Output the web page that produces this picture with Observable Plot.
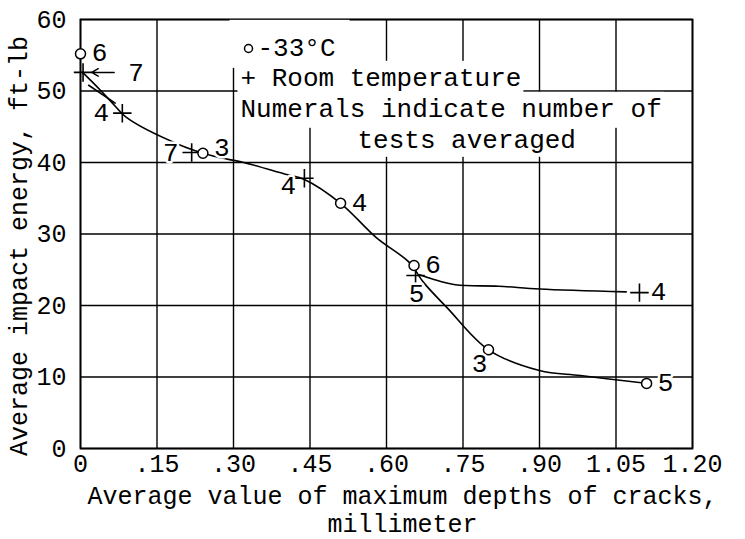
<!DOCTYPE html>
<html><head><meta charset="utf-8">
<script src="https://cdn.jsdelivr.net/npm/d3@7"></script>
<script src="https://cdn.jsdelivr.net/npm/@observablehq/plot@0.6"></script>
<style>body{margin:0;background:#fff}</style>
</head><body><div id="chart"></div>
<script>
// ---- tick labels ----
const xTicks = [0, 0.15, 0.30, 0.45, 0.60, 0.75, 0.90, 1.05, 1.20];
const xTickLabels = ["0", ".15", ".30", ".45", ".60", ".75", ".90", "1.05", "1.20"];
const yTicks = [0, 10, 20, 30, 40, 50, 60];

// ---- -33 C (open circles) ----
const coldX = [0.0, 0.24, 0.51, 0.654, 0.80, 1.11];
const coldY = [55.2, 41.3, 34.3, 25.6, 13.8, 9.1];
const coldN = ["6", "3", "4", "6", "3", "5"];
const coldSide = ["right", "rightUp", "right", "right", "belowLeft", "right"];

// ---- Room temperature (plus) ----
const roomX = [0.005, 0.082, 0.218, 0.439, 0.657, 1.096];
const roomY = [52.6, 46.9, 41.4, 37.8, 24.2, 21.8];
const roomN = ["7", "4", "7", "4", "5", "4"];
const roomSide = ["arrow", "left", "left", "leftBelow", "below", "right"];

// ---- faired curves ----
const mainCurveX = [0.004, 0.035, 0.064, 0.09, 0.19, 0.26, 0.32, 0.40, 0.44, 0.51, 0.58, 0.645, 0.673, 0.72, 0.80, 0.90, 0.98, 1.10];
const mainCurveY = [52.6, 50.4, 48.2, 46.3, 42.6, 40.9, 40.0, 38.4, 37.6, 34.3, 29.5, 26.0, 23.2, 19.6, 13.8, 10.9, 10.2, 9.2];
const roomCurveX = [0.665, 0.69, 0.735, 0.82, 0.90, 1.07];
const roomCurveY = [24.3, 23.7, 22.9, 22.7, 22.3, 21.9];
const tailX = [0.016, 0.068];
const tailY = [50.8, 48.3];
const arrowX = [0.066, 0.022];
const arrowY = [52.6, 52.6];

// ---- texts ----
const legendCold = "-33°C";
const legendRoom = "+ Room temperature";
const legendNote1 = "Numerals indicate number of";
const legendNote2 = "tests averaged";
const xTitle = "Average value of maximum depths of cracks,\nmillimeter";
const yTitle = "Average impact energy, ft-lb";

const FONT = "'Liberation Mono', 'DejaVu Sans Mono', monospace";
const xLabelMap = new Map(xTicks.map((t, i) => [t, xTickLabels[i]]));

const cold = coldX.map((x, i) => ({x, y: coldY[i], n: coldN[i], side: coldSide[i]}));
const room = roomX.map((x, i) => ({x, y: roomY[i], n: roomN[i], side: roomSide[i]}));
const pts = cold.concat(room);
const mainCurve = mainCurveX.map((x, i) => ({x, y: mainCurveY[i]}));
const roomCurve = roomCurveX.map((x, i) => ({x, y: roomCurveY[i]}));
const tail = tailX.map((x, i) => ({x, y: tailY[i]}));
const arrow = [{x1: arrowX[0], x2: arrowX[1], y1: arrowY[0], y2: arrowY[1]}];

const offsets = {
  right: [19, -1], rightUp: [19, -6], left: [-21, 0], leftBelow: [-16, 7], below: [1, 18],
  belowLeft: [-9, 14], arrow: [53, 0]
};
const numeralMarks = Object.entries(offsets).map(([side, [dx, dy]]) =>
  Plot.text(pts.filter(d => d.side === side), {
    x: "x", y: "y", text: "n", dx, dy, fontSize: 26, fontFamily: FONT,
    fill: "black", stroke: "white", strokeWidth: 5
  })
);

const lineStyle = {x: "x", y: "y", stroke: "black", strokeWidth: 1.6};
const txt = {fontSize: 26, fontFamily: FONT, fill: "black", textAnchor: "start", lineAnchor: "middle", frameAnchor: "top-left"};

const plot = Plot.plot({
  width: 745, height: 539,
  marginLeft: 80, marginRight: 53, marginTop: 19, marginBottom: 91,
  style: {fontFamily: FONT, fontSize: "25px", color: "black", background: "white"},
  x: {domain: [0, 1.2], ticks: xTicks, tickFormat: d => xLabelMap.get(d), tickSize: 0, tickPadding: 6, label: null},
  y: {domain: [0, 60], ticks: yTicks, tickSize: 0, tickPadding: 14, label: null},
  marks: [
    Plot.ruleX(xTicks, {stroke: "black", strokeWidth: 1.4}),
    Plot.ruleY(yTicks, {stroke: "black", strokeWidth: 1.4}),
    Plot.frame({stroke: "black", strokeWidth: 1.8}),
    Plot.line(mainCurve, {...lineStyle, curve: "catmull-rom"}),
    Plot.line(roomCurve, {...lineStyle, curve: "catmull-rom"}),
    Plot.line(tail, lineStyle),
    Plot.arrow(arrow, {x1: "x1", y1: "y1", x2: "x2", y2: "y2", stroke: "black", strokeWidth: 1.5, headLength: 10}),
    Plot.dot(room, {x: "x", y: "y", symbol: "plus", r: 6, stroke: "black", strokeWidth: 1.6}),
    Plot.dot(cold, {x: "x", y: "y", r: 5, fill: "white", stroke: "black", strokeWidth: 1.5}),
    ...numeralMarks,
    // legend (white masks added behind these texts after rendering)
    Plot.text([legendCold], {...txt, dx: 177, dy: 28}),
    Plot.text([legendRoom], {...txt, dx: 160, dy: 58}),
    Plot.text([legendNote1], {...txt, dx: 160, dy: 89}),
    Plot.text([legendNote2], {...txt, dx: 277, dy: 120}),
    Plot.dot([0], {frameAnchor: "top-left", dx: 168, dy: 29, r: 4, fill: "white", stroke: "black", strokeWidth: 1.5}),
    // axis titles
    Plot.text([xTitle], {frameAnchor: "bottom", dx: 16, dy: 35, lineAnchor: "top", lineHeight: 1.14, fontSize: 25, fontFamily: FONT, fill: "black"}),
    Plot.text([yTitle], {frameAnchor: "left", textAnchor: "middle", lineAnchor: "middle", dx: -62, dy: 12, rotate: -90, fontSize: 25, fontFamily: FONT, fill: "black"})
  ]
});
document.getElementById("chart").append(plot);

// white boxes behind the legend block, sized from the rendered text itself
const legendPad = {[legendCold]: [28, 14, 14, 4], [legendRoom]: [3, 3, 2, 3], [legendNote1]: [3, 3, 2, 3], [legendNote2]: [3, 3, 2, 1]};
plot.querySelectorAll("text").forEach(t => {
  const pad = legendPad[t.textContent];
  if (!pad) return;
  const b = t.getBBox();
  const r = document.createElementNS("http://www.w3.org/2000/svg", "rect");
  r.setAttribute("x", b.x - pad[0]);
  r.setAttribute("y", b.y - pad[1]);
  r.setAttribute("width", b.width + pad[0] + pad[2]);
  r.setAttribute("height", b.height + pad[1] + pad[3]);
  r.setAttribute("fill", "white");
  if (t.getAttribute("transform")) r.setAttribute("transform", t.getAttribute("transform"));
  t.parentNode.insertBefore(r, t);
});
</script>
</body></html>
